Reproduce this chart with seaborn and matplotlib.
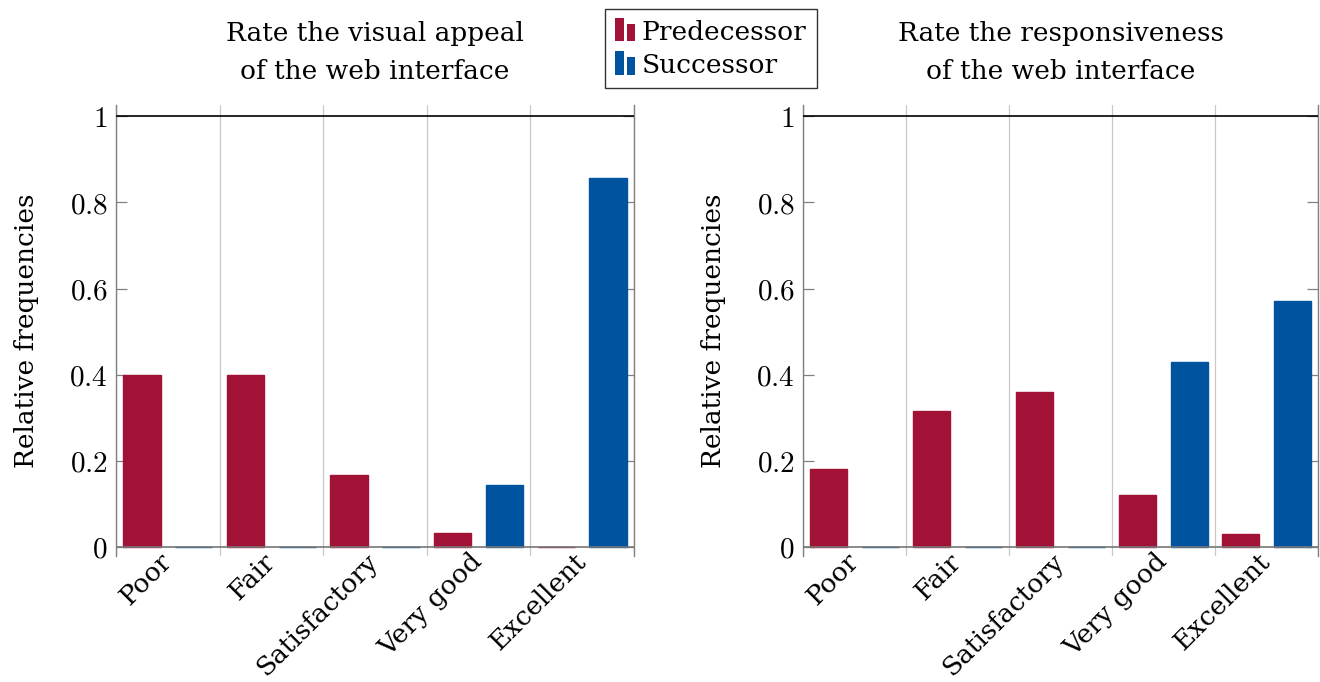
import matplotlib
matplotlib.use("Agg")
import matplotlib.pyplot as plt
import seaborn as sns
import pandas as pd
from matplotlib.patches import Rectangle, Patch
from matplotlib.legend_handler import HandlerBase

# data
categories = ["Poor", "Fair", "Satisfactory", "Very good", "Excellent"]
groups = ["Predecessor", "Successor"]
appeal_pred = [0.40, 0.40, 0.167, 0.033, 0.0]
appeal_succ = [0.0, 0.0, 0.0, 0.143, 0.857]
resp_pred = [0.18, 0.315, 0.36, 0.12, 0.03]
resp_succ = [0.0, 0.0, 0.0, 0.429, 0.571]
titles = ["Rate the visual appeal\nof the web interface",
          "Rate the responsiveness\nof the web interface"]
yticks = [0, 0.2, 0.4, 0.6, 0.8, 1]
ytick_labels = ["0", "0.2", "0.4", "0.6", "0.8", "1"]

RED = "#A11236"
BLUE = "#00549F"
FS = 19


class TwoBarHandler(HandlerBase):
    # pgfplots style ybar legend icon
    def create_artists(self, legend, orig_handle, xdescent, ydescent,
                       width, height, fontsize, trans):
        c = orig_handle.get_facecolor()
        w = width * 0.42
        r1 = Rectangle((-xdescent, -ydescent - height * 0.1), w, height * 1.25,
                       facecolor=c, edgecolor="none", transform=trans)
        r2 = Rectangle((-xdescent + width * 0.58, -ydescent - height * 0.1), w, height * 0.95,
                       facecolor=c, edgecolor="none", transform=trans)
        return [r1, r2]


def make_df(pred, succ):
    rows = []
    for cat, p, s in zip(categories, pred, succ):
        rows.append({"cat": cat, "group": groups[0], "val": p})
        rows.append({"cat": cat, "group": groups[1], "val": s})
    return pd.DataFrame(rows)


sns.set_style("white")
plt.rcParams["font.family"] = ["DejaVu Serif"]
plt.rcParams["mathtext.fontset"] = "cm"
plt.rcParams["text.color"] = "black"
plt.rcParams["axes.labelcolor"] = "black"
plt.rcParams["xtick.labelcolor"] = "black"
plt.rcParams["ytick.labelcolor"] = "black"

fig = plt.figure(figsize=(13.2, 6.82), dpi=100)
ax1 = fig.add_axes([116 / 1320, 126 / 682, 518 / 1320, 451 / 682])
ax2 = fig.add_axes([803 / 1320, 126 / 682, 515 / 1320, 451 / 682])

for ax, pred, succ, title in [(ax1, appeal_pred, appeal_succ, titles[0]),
                              (ax2, resp_pred, resp_succ, titles[1])]:
    df = make_df(pred, succ)
    sns.barplot(data=df, x="cat", y="val", hue="group", hue_order=groups,
                order=categories, palette=[RED, BLUE], width=1.0, gap=0.28,
                saturation=1, legend=False, ax=ax)
    for p in ax.patches:
        p.set_edgecolor(p.get_facecolor())
        p.set_linewidth(1.0)

    ax.set_xlim(-0.5, 4.5)
    ax.set_ylim(-0.021, 1.026)
    ax.axhline(0, color="#777777", lw=1.2, zorder=3)
    ax.axhline(1, color="black", lw=1.2, zorder=3)

    ax.set_xticks(range(len(categories)))
    ax.set_xticklabels(categories, rotation=45, ha="right", va="center",
                       rotation_mode="anchor", fontsize=FS)
    ax.set_xticks([i - 0.5 for i in range(len(categories) + 1)], minor=True)
    ax.tick_params(axis="x", which="both", length=0, pad=1)
    ax.grid(True, axis="x", which="minor", color="#c8c8c8", lw=0.9)
    ax.grid(False, axis="x", which="major")
    ax.grid(False, axis="y")

    ax.set_yticks(yticks)
    ax.set_yticklabels([f"${t}$" for t in ytick_labels], fontsize=21)
    ax.tick_params(axis="y", direction="in", length=8, color="#808080",
                   left=True, right=True, width=0.9, pad=6)

    for side in ["left", "right"]:
        ax.spines[side].set_visible(True)
        ax.spines[side].set_color("#808080")
        ax.spines[side].set_linewidth(1.0)
    ax.spines["top"].set_visible(False)
    ax.spines["bottom"].set_visible(False)

    ax.set_xlabel("")
    ax.set_ylabel("Relative frequencies", fontsize=FS, labelpad=22)
    ax.set_title(title, fontsize=FS, pad=19, linespacing=1.65)

handles = [Patch(facecolor=RED), Patch(facecolor=BLUE)]
leg = fig.legend(handles, groups, loc="upper center",
                 bbox_to_anchor=(711 / 1320, 1 - 9 / 682), fontsize=FS,
                 frameon=True, fancybox=False, edgecolor="black",
                 handler_map={Patch: TwoBarHandler()}, handlelength=0.75,
                 handletextpad=0.25, labelspacing=0.31, borderpad=0.4,
                 borderaxespad=0)
leg.get_frame().set_linewidth(1.0)

fig.savefig("out.png", dpi=100)
